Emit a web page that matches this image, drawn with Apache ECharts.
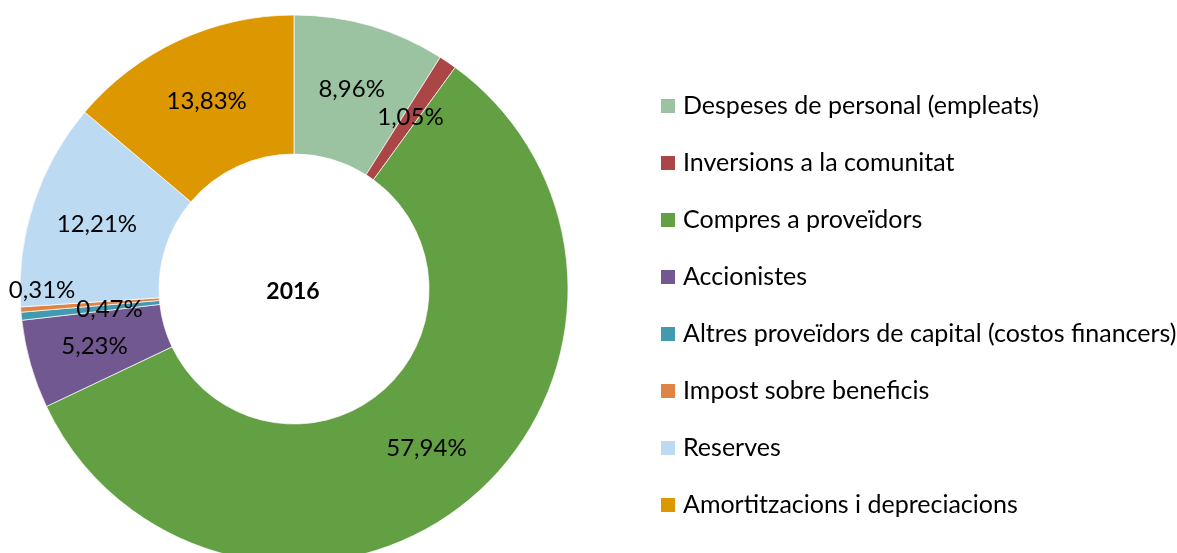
<!DOCTYPE html>
<html>
<head>
<meta charset="utf-8">
<script src="https://cdn.jsdelivr.net/npm/echarts@6/dist/echarts.min.js"></script>
<style>
html,body{margin:0;padding:0;background:#fff;}
#chart{width:1177px;height:553px;}
</style>
</head>
<body>
<div id="chart"></div>
<script>
const categories = [
  'Despeses de personal (empleats)',
  'Inversions a la comunitat',
  'Compres a proveïdors',
  'Accionistes',
  'Altres proveïdors de capital (costos financers)',
  'Impost sobre beneficis',
  'Reserves',
  'Amortitzacions i depreciacions'
];
const values = [8.96, 1.05, 57.94, 5.23, 0.47, 0.31, 12.21, 13.83];
const centerTitle = '2016';

const colors = ['#9BC3A2', '#AA4645', '#62A043', '#725891', '#4299B0', '#DF8444', '#BDDAF3', '#DD9700'];
const labelShift = [[0,0],[0,0],[0,0],[0,0],[22,0],[-45,-14],[0,0],[0,0]];

const FONT = 'Lato';
const chart = echarts.init(document.getElementById('chart'), null, {renderer:'canvas'});
chart.setOption({
  animation: false,
  color: colors,
  title: {
    text: centerTitle,
    left: 293, top: 292,
    padding: 0,
    textAlign: 'center', textVerticalAlign: 'middle',
    textStyle: {fontFamily: FONT, fontSize: 23, fontWeight: 'bold', color: '#000'}
  },
  legend: {
    orient: 'vertical',
    left: 659, top: 93,
    padding: 0,
    itemWidth: 16, itemHeight: 16,
    itemGap: 31,
    icon: 'rect',
    data: categories,
    textStyle: {fontFamily: FONT, fontSize: 25, color: '#000', lineHeight: 26, padding: [0, 0, 0, 2]}
  },
  series: [{
    type: 'pie',
    center: [294, 289],
    radius: [135, 274],
    startAngle: 90,
    clockwise: true,
    avoidLabelOverlap: false,
    itemStyle: {borderColor: '#fff', borderWidth: 0.7},
    label: {
      show: true,
      position: 'inside',
      fontFamily: FONT, fontSize: 24, color: '#000',
      formatter: p => p.value.toFixed(2).replace('.', ',') + '%'
    },
    labelLine: {show: false},
    labelLayout: p => ({dx: labelShift[p.dataIndex][0], dy: labelShift[p.dataIndex][1]}),
    emphasis: {disabled: true},
    data: categories.map((c, i) => ({name: c, value: values[i]}))
  }]
});
</script>
</body>
</html>
